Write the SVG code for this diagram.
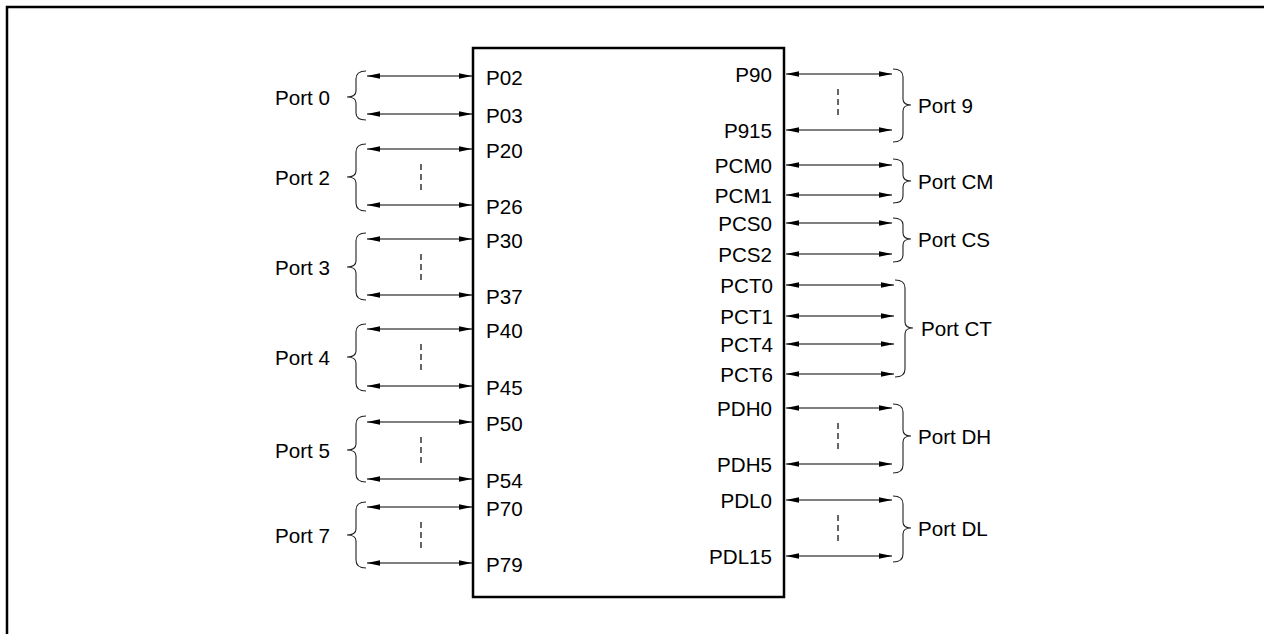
<svg xmlns="http://www.w3.org/2000/svg" width="1264" height="634" viewBox="0 0 1264 634">
<style>
text{font-family:"Liberation Sans",Arial,sans-serif;font-size:20.6px;fill:#000}
.r{text-anchor:end}
.frame{fill:none;stroke:#000;stroke-width:2.5}
.box{fill:#fff;stroke:#000;stroke-width:2.5}
.arr{stroke:#000;stroke-width:1.2;marker-start:url(#ah);marker-end:url(#ah)}
.br{fill:none;stroke:#222;stroke-width:1.1}
.dash{stroke:#000;stroke-width:1.2;stroke-dasharray:6 4}
</style>
<defs>
<marker id="ah" markerUnits="userSpaceOnUse" markerWidth="14" markerHeight="8" refX="13" refY="4" orient="auto-start-reverse">
<path d="M0,1.2 L13,4 L0,6.8 Z" fill="#000"/>
</marker>
</defs>
<rect width="1264" height="634" fill="#fff"/>
<path class="frame" d="M7,634 V7 H1264"/>
<g id="chip">
<rect class="box" x="473" y="48" width="311" height="549"/>
</g>
<g id="connectors">
<line class="arr" x1="367" y1="76" x2="472" y2="76"/>
<line class="arr" x1="367" y1="114" x2="472" y2="114"/>
<line class="arr" x1="367" y1="149" x2="472" y2="149"/>
<line class="arr" x1="367" y1="205" x2="472" y2="205"/>
<line class="arr" x1="367" y1="239" x2="472" y2="239"/>
<line class="arr" x1="367" y1="295" x2="472" y2="295"/>
<line class="arr" x1="367" y1="329" x2="472" y2="329"/>
<line class="arr" x1="367" y1="386" x2="472" y2="386"/>
<line class="arr" x1="367" y1="422" x2="472" y2="422"/>
<line class="arr" x1="367" y1="479" x2="472" y2="479"/>
<line class="arr" x1="367" y1="507" x2="472" y2="507"/>
<line class="arr" x1="367" y1="563" x2="472" y2="563"/>
<line class="arr" x1="786" y1="74" x2="892" y2="74"/>
<line class="arr" x1="786" y1="130" x2="892" y2="130"/>
<line class="arr" x1="786" y1="165" x2="892" y2="165"/>
<line class="arr" x1="786" y1="195" x2="892" y2="195"/>
<line class="arr" x1="786" y1="223" x2="892" y2="223"/>
<line class="arr" x1="786" y1="254" x2="892" y2="254"/>
<line class="arr" x1="786" y1="285" x2="894" y2="285"/>
<line class="arr" x1="786" y1="316" x2="894" y2="316"/>
<line class="arr" x1="786" y1="344" x2="894" y2="344"/>
<line class="arr" x1="786" y1="374" x2="894" y2="374"/>
<line class="arr" x1="786" y1="408" x2="892" y2="408"/>
<line class="arr" x1="786" y1="464" x2="892" y2="464"/>
<line class="arr" x1="786" y1="500" x2="892" y2="500"/>
<line class="arr" x1="786" y1="556" x2="892" y2="556"/>
<line class="dash" x1="421" y1="164" x2="421" y2="190"/>
<line class="dash" x1="421" y1="254" x2="421" y2="280"/>
<line class="dash" x1="421" y1="344" x2="421" y2="370"/>
<line class="dash" x1="421" y1="437" x2="421" y2="463"/>
<line class="dash" x1="421" y1="522" x2="421" y2="548"/>
<line class="dash" x1="838" y1="89" x2="838" y2="115"/>
<line class="dash" x1="838" y1="423" x2="838" y2="449"/>
<line class="dash" x1="838" y1="515" x2="838" y2="541"/>
</g>
<g id="pins-left">
<text x="486" y="85">P02</text>
<text x="486" y="123">P03</text>
<text x="486" y="158">P20</text>
<text x="486" y="214">P26</text>
<text x="486" y="248">P30</text>
<text x="486" y="304">P37</text>
<text x="486" y="338">P40</text>
<text x="486" y="395">P45</text>
<text x="486" y="431">P50</text>
<text x="486" y="488">P54</text>
<text x="486" y="516">P70</text>
<text x="486" y="572">P79</text>
</g>
<g id="pins-right">
<text class="r" x="772" y="82">P90</text>
<text class="r" x="772" y="138">P915</text>
<text class="r" x="772" y="173">PCM0</text>
<text class="r" x="772" y="203">PCM1</text>
<text class="r" x="772" y="231">PCS0</text>
<text class="r" x="772" y="262">PCS2</text>
<text class="r" x="773" y="293">PCT0</text>
<text class="r" x="773" y="324">PCT1</text>
<text class="r" x="773" y="352">PCT4</text>
<text class="r" x="773" y="382">PCT6</text>
<text class="r" x="772" y="416">PDH0</text>
<text class="r" x="772" y="472">PDH5</text>
<text class="r" x="772" y="508">PDL0</text>
<text class="r" x="772" y="564">PDL15</text>
</g>
<g id="port0"><path class="br" d="M366,71 Q356,71 356,79 V91 Q356,97 347,97 Q356,97 356,103 V113 Q356,120 366,120"/><text x="275" y="105">Port 0</text></g>
<g id="port2"><path class="br" d="M366,144 Q356,144 356,152 V171 Q356,177 347,177 Q356,177 356,183 V203 Q356,211 366,211"/><text x="275" y="185">Port 2</text></g>
<g id="port3"><path class="br" d="M366,233 Q356,233 356,241 V261 Q356,267 347,267 Q356,267 356,273 V292 Q356,300 366,300"/><text x="275" y="275">Port 3</text></g>
<g id="port4"><path class="br" d="M366,324 Q356,324 356,332 V351 Q356,357 347,357 Q356,357 356,363 V383 Q356,391 366,391"/><text x="275" y="365">Port 4</text></g>
<g id="port5"><path class="br" d="M366,416 Q356,416 356,424 V444 Q356,450 347,450 Q356,450 356,456 V474 Q356,482 366,482"/><text x="275" y="458">Port 5</text></g>
<g id="port7"><path class="br" d="M366,502 Q356,502 356,510 V529 Q356,535 347,535 Q356,535 356,541 V560 Q356,568 366,568"/><text x="275" y="543">Port 7</text></g>
<g id="port9"><path class="br" d="M893,69 Q903,69 903,77 V99 Q903,105 911,105 Q903,105 903,111 V134 Q903,142 893,142"/><text x="918" y="113">Port 9</text></g>
<g id="portCM"><path class="br" d="M893,159 Q903,159 903,166 V175 Q903,181 911,181 Q903,181 903,187 V196 Q903,203 893,203"/><text x="918" y="189">Port CM</text></g>
<g id="portCS"><path class="br" d="M893,218 Q903,218 903,225 V233 Q903,239 911,239 Q903,239 903,245 V255 Q903,262 893,262"/><text x="918" y="247">Port CS</text></g>
<g id="portCT"><path class="br" d="M895,280 Q905,280 905,288 V322 Q905,328 913,328 Q905,328 905,334 V369 Q905,377 895,377"/><text x="921" y="336">Port CT</text></g>
<g id="portDH"><path class="br" d="M893,404 Q903,404 903,412 V430 Q903,436 911,436 Q903,436 903,442 V465 Q903,473 893,473"/><text x="918" y="444">Port DH</text></g>
<g id="portDL"><path class="br" d="M893,496 Q903,496 903,504 V522 Q903,528 911,528 Q903,528 903,534 V554 Q903,562 893,562"/><text x="918" y="536">Port DL</text></g>
</svg>
